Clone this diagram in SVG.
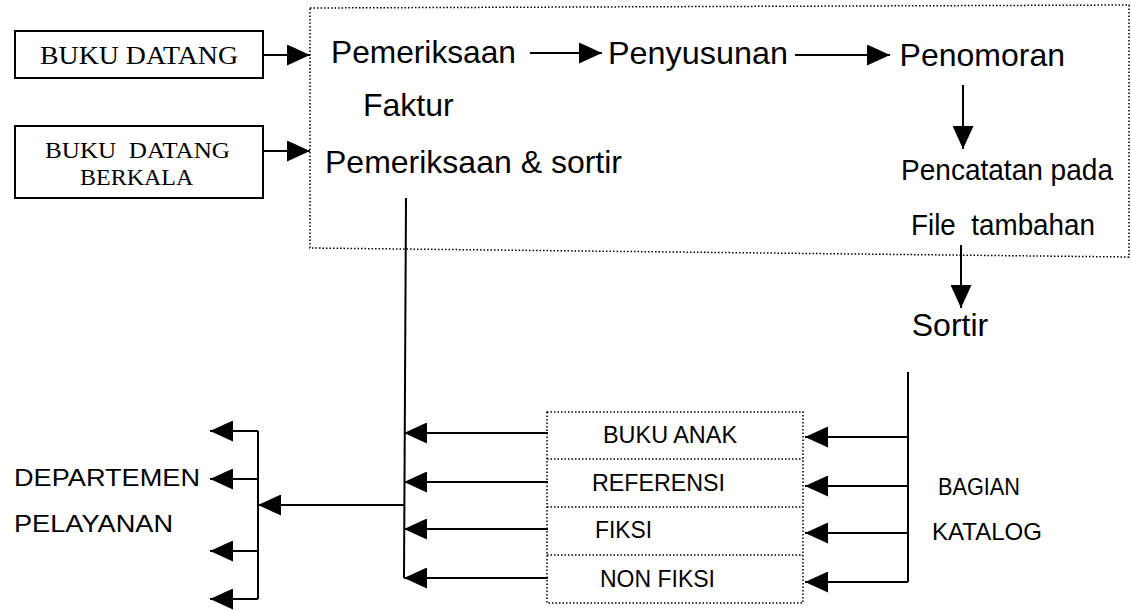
<svg xmlns="http://www.w3.org/2000/svg" width="1131" height="610" viewBox="0 0 1131 610">
<style>
.s{font-family:"Liberation Sans",Arial,sans-serif;fill:#000}
.t{font-family:"Liberation Serif","Times New Roman",serif;fill:#000}
.big{font-size:32px}
.mid{font-size:24px}
.sm{font-size:24px}
.ln{stroke:#000;stroke-width:2;fill:none}
.dot{stroke:#000;stroke-width:1.5;fill:none;stroke-dasharray:1.5 2}
.box{stroke:#000;stroke-width:2;fill:#fff}
</style>
<defs>
<marker id="ahb" viewBox="0 0 10 10" refX="10" refY="5" markerWidth="23" markerHeight="21" markerUnits="userSpaceOnUse" orient="auto" preserveAspectRatio="none">
<path d="M0,0 L10,5 L0,10 Z" fill="#000"/>
</marker>
</defs>
<g id="process-area">
<path class="dot" d="M310,8 L1129,5 L1129,257 L310,248 Z"/>
</g>
<g id="buku-datang">
<rect class="box" x="15" y="31" width="248" height="47"/>
<text class="t" x="40" y="64" font-size="26" textLength="198" lengthAdjust="spacingAndGlyphs">BUKU DATANG</text>
</g>
<g id="buku-datang-berkala">
<rect class="box" x="15" y="126" width="248" height="72"/>
<text class="t" x="45" y="158" font-size="24" textLength="185" lengthAdjust="spacingAndGlyphs" style="white-space:pre">BUKU  DATANG</text>
<text class="t" x="80" y="185" font-size="24">BERKALA</text>
</g>
<g id="pemeriksaan-faktur">
<text class="s big" x="331" y="63" textLength="185" lengthAdjust="spacingAndGlyphs">Pemeriksaan</text>
<text class="s big" x="363" y="116">Faktur</text>
</g>
<g id="pemeriksaan-sortir">
<text class="s big" x="325" y="173" textLength="297" lengthAdjust="spacingAndGlyphs">Pemeriksaan &amp; sortir</text>
</g>
<g id="penyusunan">
<text class="s big" x="608" y="64" textLength="180" lengthAdjust="spacingAndGlyphs">Penyusunan</text>
</g>
<g id="penomoran">
<text class="s big" x="1065" y="66" text-anchor="end">Penomoran</text>
</g>
<g id="pencatatan">
<text class="s" font-size="30" x="901" y="180" textLength="212" lengthAdjust="spacingAndGlyphs">Pencatatan pada</text>
<text class="s" font-size="30" x="911" y="235" textLength="184" lengthAdjust="spacingAndGlyphs" style="white-space:pre">File  tambahan</text>
</g>
<g id="sortir">
<text class="s big" x="950" y="336" text-anchor="middle">Sortir</text>
</g>
<g id="kategori">
<rect x="547" y="412" width="256" height="191" fill="none" class="dot"/>
<line class="dot" x1="547" y1="459" x2="803" y2="459"/>
<line class="dot" x1="547" y1="507" x2="803" y2="507"/>
<line class="dot" x1="547" y1="555" x2="803" y2="555"/>
<text class="s sm" x="603" y="443" textLength="134" lengthAdjust="spacingAndGlyphs">BUKU ANAK</text>
<text class="s sm" x="592" y="491" textLength="133" lengthAdjust="spacingAndGlyphs">REFERENSI</text>
<text class="s sm" x="595" y="538" textLength="57" lengthAdjust="spacingAndGlyphs">FIKSI</text>
<text class="s sm" x="600" y="587" textLength="115" lengthAdjust="spacingAndGlyphs">NON FIKSI</text>
</g>
<g id="bagian-katalog">
<text class="s sm" x="938" y="495" textLength="82" lengthAdjust="spacingAndGlyphs">BAGIAN</text>
<text class="s sm" x="932" y="540" textLength="110" lengthAdjust="spacingAndGlyphs">KATALOG</text>
</g>
<g id="departemen">
<text class="s mid" x="14" y="486" textLength="186" lengthAdjust="spacingAndGlyphs">DEPARTEMEN</text>
<text class="s mid" x="14" y="532" textLength="159" lengthAdjust="spacingAndGlyphs">PELAYANAN</text>
</g>
<g id="connectors">
<line class="ln" x1="263" y1="55" x2="310" y2="55" marker-end="url(#ahb)"/>
<line class="ln" x1="263" y1="151" x2="310" y2="151" marker-end="url(#ahb)"/>
<line class="ln" x1="530" y1="53" x2="602" y2="53" marker-end="url(#ahb)"/>
<line class="ln" x1="795" y1="55" x2="890" y2="55" marker-end="url(#ahb)"/>
<line class="ln" x1="963" y1="85" x2="963" y2="149" marker-end="url(#ahb)"/>
<line class="ln" x1="961" y1="245" x2="961" y2="308" marker-end="url(#ahb)"/>
<line class="ln" x1="908" y1="372" x2="908" y2="582"/>
<line class="ln" x1="908" y1="437" x2="805" y2="437" marker-end="url(#ahb)"/>
<line class="ln" x1="908" y1="486" x2="805" y2="486" marker-end="url(#ahb)"/>
<line class="ln" x1="908" y1="533" x2="805" y2="533" marker-end="url(#ahb)"/>
<line class="ln" x1="908" y1="582" x2="805" y2="582" marker-end="url(#ahb)"/>
<line class="ln" x1="406" y1="198" x2="404" y2="578"/>
<line class="ln" x1="548" y1="433" x2="404" y2="433" marker-end="url(#ahb)"/>
<line class="ln" x1="548" y1="482" x2="404" y2="482" marker-end="url(#ahb)"/>
<line class="ln" x1="548" y1="529" x2="404" y2="529" marker-end="url(#ahb)"/>
<line class="ln" x1="548" y1="578" x2="404" y2="578" marker-end="url(#ahb)"/>
<line class="ln" x1="404" y1="505" x2="258" y2="505" marker-end="url(#ahb)"/>
<line class="ln" x1="258" y1="431" x2="258" y2="599"/>
<line class="ln" x1="258" y1="431" x2="210" y2="431" marker-end="url(#ahb)"/>
<line class="ln" x1="258" y1="479" x2="210" y2="479" marker-end="url(#ahb)"/>
<line class="ln" x1="258" y1="551" x2="210" y2="551" marker-end="url(#ahb)"/>
<line class="ln" x1="258" y1="599" x2="210" y2="599" marker-end="url(#ahb)"/>
</g>
</svg>
